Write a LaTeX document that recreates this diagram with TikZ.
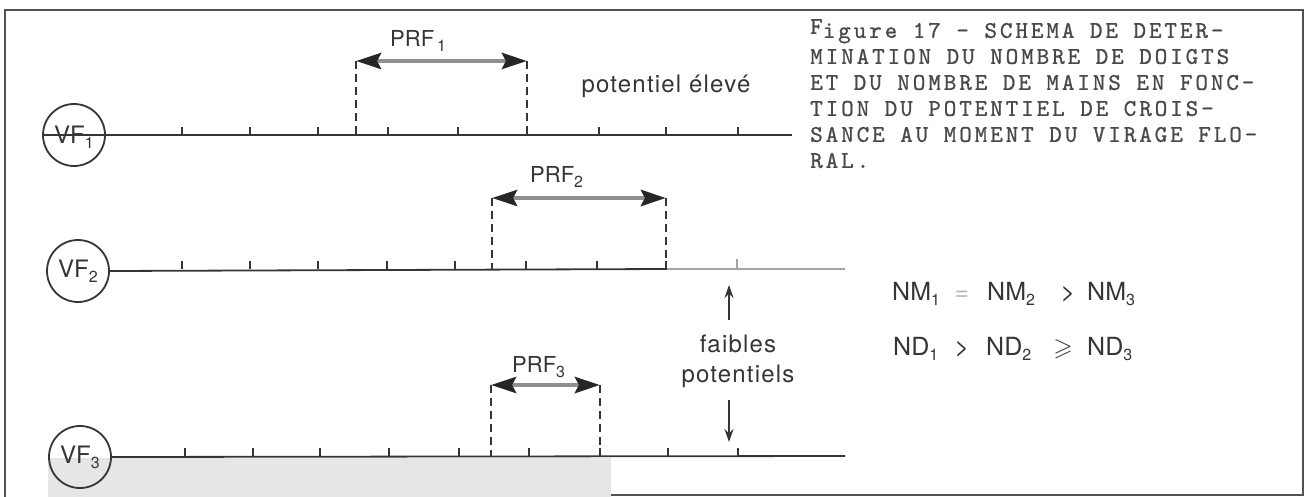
\documentclass[tikz,border=0pt]{standalone}
\usepackage{fontspec}
\usepackage{amssymb}
\setmainfont{TeX Gyre Heros}
\newfontfamily\widesans[LetterSpace=5]{TeX Gyre Heros}
\newfontfamily\capfont[LetterSpace=12,FakeBold=0.8]{lmmono10-regular.otf}
\usetikzlibrary{arrows.meta}
\definecolor{ink}{HTML}{353535}
\definecolor{bggray}{HTML}{E6E6E6}
\newcommand\lsub[1]{\raisebox{-5pt}{\fontsize{16}{16}\selectfont #1}}
\begin{document}
\begin{tikzpicture}[x=1pt,y=-1pt,
  frame/.style={line width=2.6pt, draw=ink!85},
  axis/.style={line width=1.8pt, draw=ink},
  faint/.style={line width=1.8pt, draw=ink!45},
  tickmark/.style={line width=1.6pt, draw=ink},
  guide/.style={line width=1.5pt, draw=ink, dash pattern=on 8pt off 5pt},
  prf/.style={line width=4.5pt, draw=ink!55,
    {Stealth[length=25pt,width=16pt,inset=4pt,color=black!85]}-{Stealth[length=25pt,width=16pt,inset=4pt,color=black!85]}},
  vf/.style={circle, draw=ink, line width=1.8pt, minimum size=62pt, inner sep=0pt,
    font=\fontsize{24}{24}\selectfont, text=ink},
  lbl/.style={font=\fontsize{22}{26}\selectfont, text=ink, inner sep=0pt},
  wlbl/.style={font=\widesans\fontsize{24}{30}\selectfont, text=ink, inner sep=0pt},
  eq/.style={font=\fontsize{25}{30}\selectfont, text=ink, inner sep=0pt, anchor=base west},
  ptr/.style={line width=1.8pt, draw=ink, -{Stealth[length=13pt,width=9pt]}},
]
\useasboundingbox (0,0) rectangle (1314,497);
% background artefact and frame
\fill[bggray] (48,458) rectangle (611,497);
\draw[frame] (611,495) -- (1303,495) -- (1303,10) -- (5,10) -- (5,497);

% ---------- row 1 ----------
\coordinate (e1) at (792,135);
\node[vf] (vf1) at (74,135) {};
\draw[axis] (vf1.west) -- (e1);
\node[font=\fontsize{24}{24}\selectfont, text=ink, inner sep=0pt] (vf1t) at (74,137) {VF\lsub{1}};
\foreach \x in {182,250,318,388,458,527,599,666,738} \draw[tickmark] (\x,135) -- (\x,127);
\coordinate (a1l) at (356,61); \coordinate (b1l) at (356,135);
\coordinate (a1r) at (527,61); \coordinate (b1r) at (527,135);
\draw[guide] (a1l) -- (b1l);
\draw[guide] (a1r) -- (b1r);
\draw[prf] (a1l) -- (a1r);
\node[lbl, anchor=base west] (prf1) at (390,47) {PRF\kern3pt\lsub{1}};
\node[wlbl, anchor=base] (pe) at (666,93) {potentiel élevé};

% ---------- row 2 ----------
\node[vf] (vf2) at (78,271) {VF\lsub{2}};
\coordinate (m2) at (667,269); \coordinate (e2) at (845,269);
\draw[axis] (vf2.east) -- (m2);
\draw[faint] (m2) -- (e2);
\foreach \x in {182,250,318,387,455,526,597,666} \draw[tickmark] (\x,269) -- (\x,261);
\draw[faint, line width=1.6pt] (737,269) -- (737,259);
\coordinate (a2l) at (492,198); \coordinate (b2l) at (492,269);
\coordinate (a2r) at (666,198); \coordinate (b2r) at (666,269);
\draw[guide] (a2l) -- (b2l);
\draw[guide] (a2r) -- (b2r);
\draw[prf] (a2l) -- (a2r);
\node[lbl, anchor=base west] (prf2) at (530,183) {PRF\lsub{2}};

% ---------- row 3 ----------
\node[vf] (vf3) at (80,457) {VF\lsub{3}};
\coordinate (e3) at (845,456);
\draw[axis] (vf3.east) -- (e3);
\foreach \x in {185,253,320,389,459,529,600,668,738} \draw[tickmark] (\x,456) -- (\x,448);
\coordinate (a3l) at (491,385); \coordinate (b3l) at (491,456);
\coordinate (a3r) at (600,385); \coordinate (b3r) at (600,456);
\draw[guide] (a3l) -- (b3l);
\draw[guide] (a3r) -- (b3r);
\draw[prf] (a3l) -- (a3r);
\node[lbl, anchor=base west] (prf3) at (512,372) {PRF\lsub{3}};

% ---------- faibles potentiels ----------
\node[wlbl, anchor=base] (fa) at (738,352) {faibles};
\node[wlbl, anchor=base] (po) at (738,382) {potentiels};
\coordinate (upt) at (729,320); \coordinate (uph) at (729,285);
\coordinate (dnt) at (729,400); \coordinate (dnh) at (729,442);
\draw[ptr] (upt) -- (uph);
\draw[ptr] (dnt) -- (dnh);

% ---------- relations ----------
\node[eq] (nm1) at (892,300) {NM\lsub{1}};
\node[eq, anchor=base, text=ink!35] (eqa) at (962,300) {=};
\node[eq] (nm2) at (987,300) {NM\lsub{2}};
\node[eq, anchor=base] (gta) at (1068,300) {>};
\node[eq] (nm3) at (1087,300) {NM\lsub{3}};
\node[eq] (nd1) at (893,355) {ND\lsub{1}};
\node[eq, anchor=base] (gtb) at (962,355) {>};
\node[eq] (nd2) at (986,355) {ND\lsub{2}};
\node[eq, anchor=base] (geb) at (1063,355) {$\geqslant$};
\node[eq] (nd3) at (1087,355) {ND\lsub{3}};

% ---------- caption ----------
\node[anchor=north west, inner sep=0pt, align=left, text=ink!90,
      font=\capfont\fontsize{24}{26}\selectfont] (cap) at (810,19)
{\raisebox{4pt}{F}igure 17 - SCHEMA DE DETER-\\
MINATION DU NOMBRE DE DOIGTS\\
ET DU NOMBRE DE MAINS EN FONC-\\
TION DU POTENTIEL DE CROIS-\\
SANCE AU MOMENT DU VIRAGE FLO-\\
RAL.};
\end{tikzpicture}
\end{document}
